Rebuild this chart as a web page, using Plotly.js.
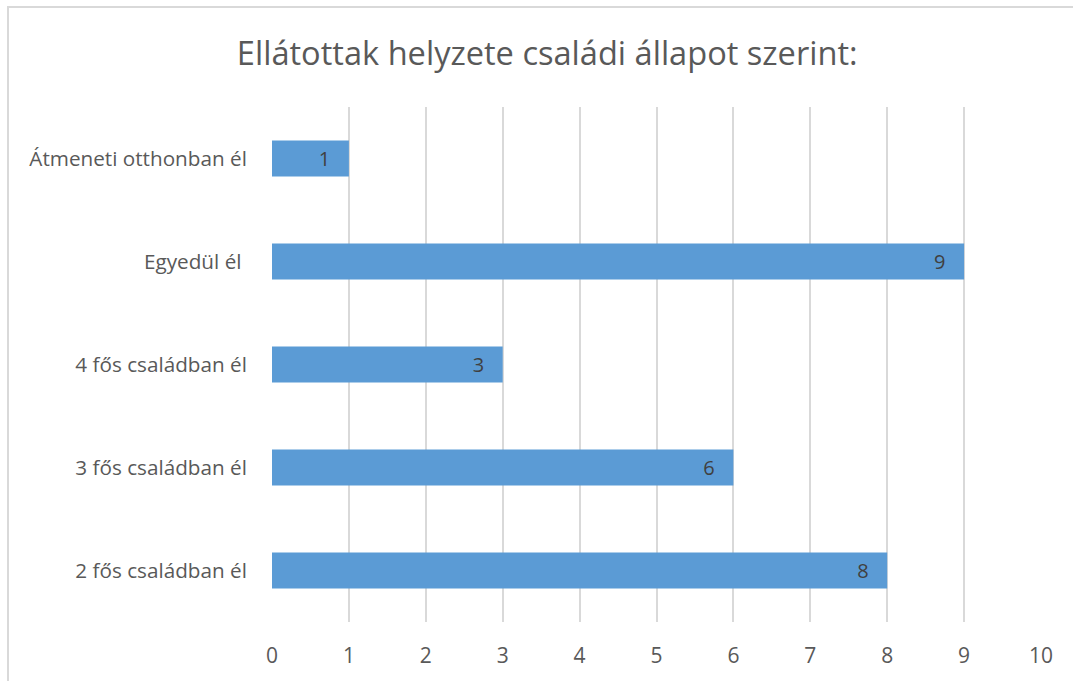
<!DOCTYPE html>
<html>
<head>
<meta charset="utf-8">
<script src="https://cdn.plot.ly/plotly-3.0.1.min.js"></script>
<style>
html,body{margin:0;padding:0;background:#fff;overflow:hidden;}
#frame{position:absolute;left:7px;top:6px;width:2000px;height:2000px;border-top:2px solid #D9D9D9;border-left:2px solid #D9D9D9;}
#chart{position:absolute;left:0;top:0;width:1073px;height:681px;}
</style>
</head>
<body>
<div id="frame"></div>
<div id="chart"></div>
<script>
const categories = ["2 fős családban él", "3 fős családban él", "4 fős családban él", "Egyedül él\u00a0", "Átmeneti otthonban él"];
const values = [8, 6, 3, 9, 1];
const xTicks = [0,1,2,3,4,5,6,7,8,9,10];
const chartTitle = "Ellátottak helyzete családi állapot szerint:";

const font = "Open Sans, Lato, sans-serif";
Plotly.newPlot("chart", [{
  type: "bar",
  orientation: "h",
  y: categories,
  x: values,
  text: values.map(v => v + "\u00a0\u00a0\u00a0"),
  textposition: "inside",
  insidetextanchor: "end",
  textfont: {family: font, size: 20, color: "#404040"},
  marker: {color: "#5B9BD5"},
  width: 0.35,
  hoverinfo: "none",
  cliponaxis: false
}], {
  width: 1073, height: 681,
  paper_bgcolor: "rgba(0,0,0,0)",
  plot_bgcolor: "rgba(0,0,0,0)",
  margin: {l: 272, r: 32, t: 107, b: 59},
  title: {text: chartTitle, font: {family: font, size: 32.6, color: "#595959"}, xref: "container", x: 0.51, xanchor: "center", yref: "container", y: 0.922, yanchor: "middle"},
  xaxis: {range: [0, 10], tickvals: xTicks, ticktext: xTicks.map(String), showgrid: true, gridcolor: "#D9D9D9", gridwidth: 2, zeroline: false, showline: false,
          ticks: "outside", ticklen: 15, tickcolor: "rgba(0,0,0,0)", tickfont: {family: font, size: 21, color: "#595959"}, fixedrange: true},
  yaxis: {type: "category", showgrid: false, zeroline: false, showline: false, ticks: "outside", ticklen: 20, tickcolor: "rgba(0,0,0,0)",
          tickfont: {family: font, size: 20.7, color: "#595959"}, fixedrange: true},
  showlegend: false,
  bargap: 0.65
}, {displayModeBar: false, staticPlot: true});
</script>
</body>
</html>
